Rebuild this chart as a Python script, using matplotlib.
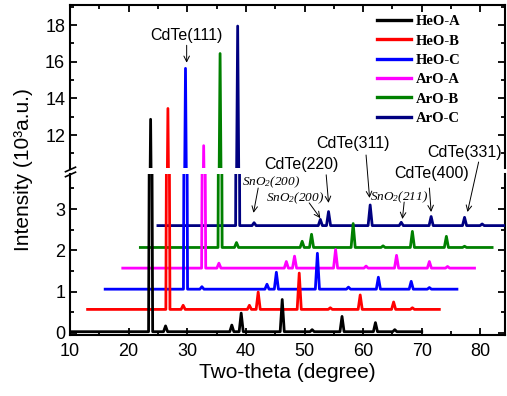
import matplotlib
matplotlib.use("Agg")
import matplotlib.pyplot as plt
from matplotlib.lines import Line2D
from matplotlib.ticker import MultipleLocator

plt.rcParams["font.family"] = ["Liberation Sans", "DejaVu Sans"]
plt.rcParams["mathtext.fontset"] = "custom"
plt.rcParams["mathtext.rm"] = "Liberation Serif:italic"
plt.rcParams["mathtext.it"] = "Liberation Serif:italic"

# --- data ----------------------------------------------------------------
samples = ["HeO-A", "HeO-B", "HeO-C", "ArO-A", "ArO-B", "ArO-C"]
colors = ["#000000", "#ff0000", "#0000ff", "#ff00ff", "#008000", "#000080"]
starts = [10, 13, 16, 19, 22, 25]
ends = [70, 73, 76, 79, 82, 85]
baselines = [0.03, 0.57, 1.06, 1.57, 2.07, 2.60]

# CdTe(111) reflection: position and peak top (10^3 a.u.)
main_pos = [23.75, 26.7, 29.7, 32.8, 35.6, 38.6]
main_top = [12.86, 13.45, 15.64, 11.42, 16.45, 17.95]

# weaker reflections: positions and heights above the baseline
heo_a_pos = [26.3, 37.6, 39.2, 46.2, 51.3, 56.4, 62.1, 65.4]
heo_a_h = [0.14, 0.16, 0.45, 0.78, 0.05, 0.37, 0.22, 0.05]
heo_b_pos = [29.3, 40.6, 42.1, 49.1, 54.4, 59.5, 65.2, 68.4]
heo_b_h = [0.10, 0.10, 0.42, 0.88, 0.04, 0.35, 0.18, 0.04]
heo_c_pos = [32.5, 43.6, 45.2, 52.2, 57.5, 62.6, 68.2, 71.3]
heo_c_h = [0.06, 0.12, 0.41, 0.87, 0.05, 0.29, 0.19, 0.04]
aro_a_pos = [35.4, 46.9, 48.3, 55.3, 60.5, 65.7, 71.3, 74.4]
aro_a_h = [0.12, 0.16, 0.29, 0.45, 0.05, 0.31, 0.16, 0.04]
aro_b_pos = [38.4, 49.6, 51.2, 58.3, 63.4, 68.4, 74.2, 77.3]
aro_b_h = [0.12, 0.15, 0.32, 0.58, 0.04, 0.39, 0.27, 0.03]
aro_c_pos = [41.4, 52.7, 54.1, 61.2, 66.5, 71.6, 77.3, 80.3]
aro_c_h = [0.07, 0.15, 0.34, 0.50, 0.08, 0.22, 0.20, 0.04]

minor_pos = [heo_a_pos, heo_b_pos, heo_c_pos, aro_a_pos, aro_b_pos, aro_c_pos]
minor_h = [heo_a_h, heo_b_h, heo_c_h, aro_a_h, aro_b_h, aro_c_h]

HALF_W = 0.35  # peak half-width at the base, degrees


def trace(i):
    base = baselines[i]
    peaks = [(main_pos[i], main_top[i] - base)]
    peaks += list(zip(minor_pos[i], minor_h[i]))
    xs, ys = [starts[i]], [base]
    for p, h in sorted(peaks):
        xs += [p - HALF_W, p, p + HALF_W]
        ys += [base, base + h, base]
    xs.append(ends[i])
    ys.append(base)
    return xs, ys


W, H = 507, 396
fig = plt.figure(figsize=(W / 100, H / 100), dpi=100)


def fx(px):
    return px / W


def fy(py):
    return 1 - py / H


L, R = 70, 505
ax_lo = fig.add_axes([fx(L), fy(335), fx(R - L), (335 - 174) / H])
ax_hi = fig.add_axes([fx(L), fy(168), fx(R - L), (168 - 5) / H], sharex=ax_lo)
ax_lo.patch.set_visible(False)
ax_hi.patch.set_visible(False)

for i in range(len(samples)):
    xs, ys = trace(i)
    for ax in (ax_lo, ax_hi):
        ax.plot(xs, ys, color=colors[i], lw=2.0, zorder=10 - i,
                label=samples[i] if ax is ax_hi else None)

ax_lo.set_xlim(10, 84.2)
ax_lo.set_ylim(-0.05, 3.85)
ax_hi.set_ylim(10.2, 19.1)

for ax in (ax_lo, ax_hi):
    for s in ax.spines.values():
        s.set_linewidth(1.5)
    ax.tick_params(which="both", direction="in", width=1.3, labelsize=13,
                   top=True, right=True)
    ax.tick_params(which="major", length=5)
    ax.tick_params(which="minor", length=3)
    ax.xaxis.set_major_locator(MultipleLocator(10))
    ax.xaxis.set_minor_locator(MultipleLocator(5))

ax_lo.spines["top"].set_visible(False)
ax_lo.tick_params(which="both", top=False)
ax_lo.tick_params(axis="x", pad=6)
ax_lo.yaxis.set_major_locator(MultipleLocator(1))
ax_lo.yaxis.set_minor_locator(MultipleLocator(0.5))

ax_hi.spines["bottom"].set_visible(False)
ax_hi.tick_params(which="both", bottom=False, labelbottom=False)
ax_hi.yaxis.set_major_locator(MultipleLocator(2))
ax_hi.yaxis.set_minor_locator(MultipleLocator(1))

ax_lo.set_xlabel("Two-theta (degree)", fontsize=15, labelpad=2)
fig.text(fx(24), fy(170), "Intensity (10\u00b3a.u.)", fontsize=15,
         rotation=90, ha="center", va="center")

# axis break marks on the left spine
for y0 in (171.7, 176.7):
    fig.add_artist(Line2D([fx(65.5), fx(75.5)], [fy(y0), fy(y0 - 4.5)],
                          color="black", lw=1.2, transform=fig.transFigure))

arrow = dict(arrowstyle="->", color="black", lw=0.7, shrinkA=0, shrinkB=0)

ax_hi.text(29.9, 17.45, "CdTe(111)", fontsize=11.5, ha="center", va="center")
ax_hi.annotate("", xy=(29.9, 15.95), xytext=(29.9, 16.9), arrowprops=arrow)

cdte_labels = ["CdTe(220)", "CdTe(311)", "CdTe(400)", "CdTe(331)"]
cdte_text_xy = [(49.5, 4.07), (58.2, 4.60), (71.6, 3.87), (77.3, 4.36)]
cdte_tail = [(53.7, 3.83), (60.5, 4.31), (71.3, 3.51), (79.7, 4.14)]
cdte_tip = [(54.1, 3.15), (61.1, 3.27), (71.6, 2.93), (77.8, 2.93)]
for lab, t, a, b in zip(cdte_labels, cdte_text_xy, cdte_tail, cdte_tip):
    ax_lo.text(t[0], t[1], lab, fontsize=11.5, ha="center", va="center",
               clip_on=False, zorder=20)
    ax_lo.annotate("", xy=b, xytext=a, arrowprops=arrow,
                   annotation_clip=False, zorder=20)

sno_labels = ["SnO$_2$(200)", "SnO$_2$(200)", "SnO$_2$(211)"]
sno_text_xy = [(44.3, 3.66), (48.4, 3.27), (66.2, 3.29)]
sno_tail = [(42.1, 3.51), (50.8, 3.15), (67.0, 3.17)]
sno_tip = [(41.3, 2.91), (52.7, 2.78), (66.7, 2.76)]
for lab, t, a, b in zip(sno_labels, sno_text_xy, sno_tail, sno_tip):
    ax_lo.text(t[0], t[1], lab, fontsize=9.5, ha="center", va="center",
               family="Liberation Serif", style="italic",
               clip_on=False, zorder=20)
    ax_lo.annotate("", xy=b, xytext=a, arrowprops=arrow,
                   annotation_clip=False, zorder=20)

leg = ax_hi.legend(loc="upper left", bbox_to_anchor=(fx(377), fy(15)),
                   bbox_transform=fig.transFigure, frameon=False,
                   borderpad=0, borderaxespad=0, handlelength=2.35,
                   handletextpad=0.3, labelspacing=0.42,
                   prop={"family": "Liberation Serif", "weight": "bold",
                         "size": 10.5})
for h in leg.get_lines():
    h.set_linewidth(2.4)

fig.savefig("out.png", dpi=100)
